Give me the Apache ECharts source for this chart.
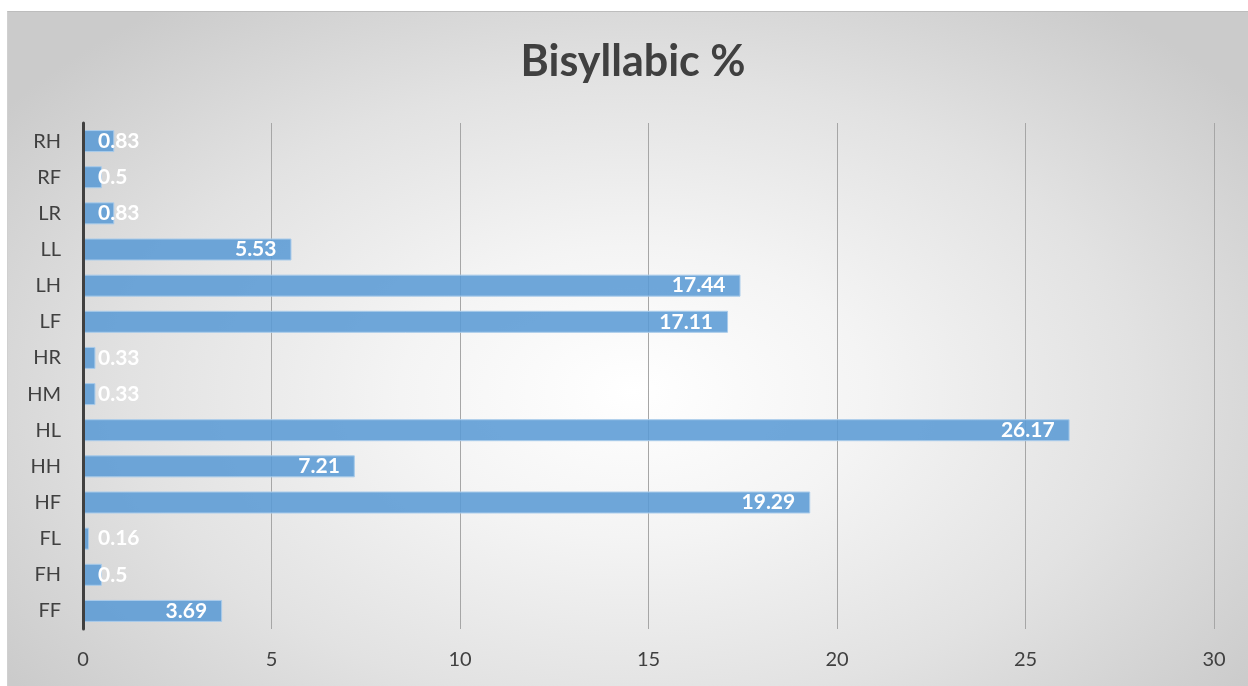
<!DOCTYPE html>
<html>
<head>
<meta charset="utf-8">
<script src="https://cdn.jsdelivr.net/npm/echarts@6/dist/echarts.min.js"></script>
<style>
  html, body { margin: 0; padding: 0; background: #ffffff; }
  #wrap { position: relative; width: 1248px; height: 686px; overflow: hidden; }
  #bg { position: absolute; left: 7px; top: 11px; width: 1250px; height: 690px;
        border-top: 1px solid #bdbdbd; border-left: 1px solid #d0d0d0;
        background: radial-gradient(ellipse 62% 70% at 50% 55%, #ffffff 0%, #f4f4f4 30%, #e2e2e2 65%, #cbcbcb 100%); }
  #main { position: absolute; left: 0; top: 0; width: 1248px; height: 686px; }
</style>
</head>
<body>
<div id="wrap">
  <div id="bg"></div>
  <div id="main"></div>
</div>
<script>
const categories = ['FF', 'FH', 'FL', 'HF', 'HH', 'HL', 'HM', 'HR', 'LF', 'LH', 'LL', 'LR', 'RF', 'RH'];
const values = [3.69, 0.5, 0.16, 19.29, 7.21, 26.17, 0.33, 0.33, 17.11, 17.44, 5.53, 0.83, 0.5, 0.83];
const xTicks = [0, 5, 10, 15, 20, 25, 30];

const FONT = 'Lato, "Open Sans", sans-serif';
const chart = echarts.init(document.getElementById('main'), null, { renderer: 'canvas' });

const data = values.map(v => ({
  value: v,
  label: v < 2
    ? { position: 'insideLeft', distance: 15 }
    : { position: 'insideRight', distance: 15 }
}));

chart.setOption({
  backgroundColor: 'transparent',
  animation: false,
  title: {
    text: 'Bisyllabic %',
    left: 632,
    top: 36,
    textAlign: 'center',
    textStyle: { fontFamily: FONT, fontSize: 43, fontWeight: 'bold', color: '#404040' }
  },
  grid: { left: 83, right: 34, top: 123, bottom: 57, containLabel: false },
  xAxis: {
    type: 'value',
    min: xTicks[0],
    max: xTicks[xTicks.length - 1],
    interval: 5,
    axisLine: { show: false },
    axisTick: { show: false },
    splitLine: { show: true, lineStyle: { color: '#a6a6a6', width: 1 } },
    axisLabel: { fontFamily: FONT, fontSize: 20, color: '#404040', margin: 21 }
  },
  yAxis: {
    type: 'category',
    data: categories,
    axisLine: { show: true, onZero: false, lineStyle: { color: '#404040', width: 3 } },
    axisTick: { show: false },
    axisLabel: { fontFamily: FONT, fontSize: 20, color: '#404040', margin: 22 },
    z: 5
  },
  series: [{
    type: 'bar',
    data: data,
    barWidth: 22,
    itemStyle: { color: 'rgba(91,155,213,0.88)', borderColor: '#a9cbea', borderWidth: 1 },
    label: {
      show: true,
      fontFamily: FONT,
      fontSize: 21,
      fontWeight: 'bold',
      color: '#ffffff'
    }
  }]
});
// Title anchor is at its horizontal centre; nudge to the reference's centre line.
chart.setOption({ title: { left: 628 } });
</script>
</body>
</html>
